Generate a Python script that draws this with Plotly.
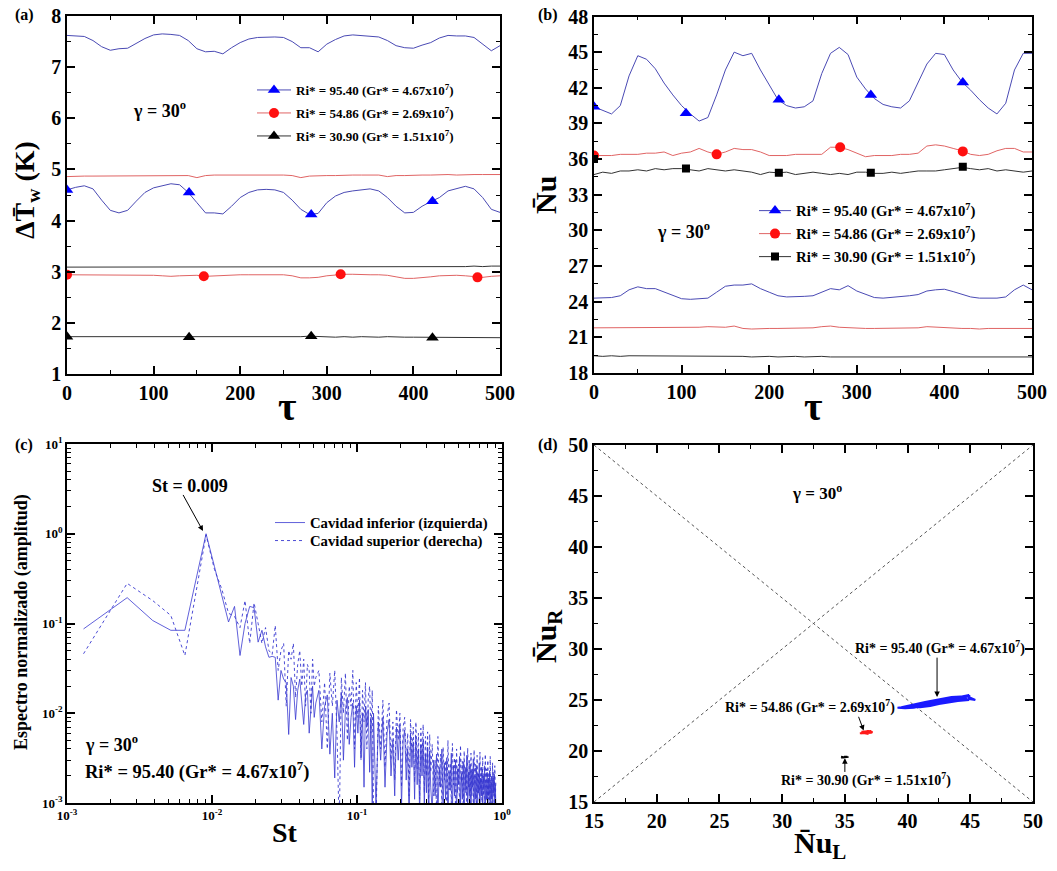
import plotly.graph_objects as go

SERIF = "Liberation Serif"

# ---------------- data: panel (a) and (b), tau grid ----------------
TAU = list(range(0, 501, 10))

A_BLUE_TOP = [7.62, 7.61, 7.60, 7.52, 7.40, 7.33, 7.36, 7.37, 7.46, 7.56,
              7.63, 7.65, 7.64, 7.62, 7.52, 7.36, 7.30, 7.31, 7.26, 7.38,
              7.48, 7.55, 7.58, 7.59, 7.59, 7.58, 7.50, 7.38, 7.38, 7.30,
              7.45, 7.54, 7.61, 7.63, 7.62, 7.61, 7.59, 7.52, 7.42, 7.38,
              7.37, 7.43, 7.48, 7.57, 7.62, 7.61, 7.61, 7.58, 7.45, 7.32,
              7.42]
A_RED_TOP = [4.86, 4.87, 4.87, 4.87, 4.87, 4.87, 4.88, 4.88, 4.88, 4.88,
             4.88, 4.88, 4.88, 4.88, 4.88, 4.84, 4.88, 4.89, 4.89, 4.89,
             4.90, 4.90, 4.90, 4.90, 4.89, 4.89, 4.88, 4.84, 4.87, 4.88,
             4.88, 4.88, 4.89, 4.89, 4.89, 4.89, 4.89, 4.86, 4.88, 4.88,
             4.89, 4.89, 4.89, 4.90, 4.90, 4.89, 4.90, 4.90, 4.90, 4.90,
             4.90]
A_BLACK_TOP = [3.09, 3.09, 3.10, 3.09, 3.09, 3.10, 3.10, 3.09, 3.09, 3.10,
               3.10, 3.09, 3.09, 3.10, 3.09, 3.09, 3.10, 3.10, 3.09, 3.10,
               3.10, 3.10, 3.09, 3.10, 3.10, 3.10, 3.10, 3.09, 3.10, 3.10,
               3.10, 3.10, 3.10, 3.10, 3.09, 3.10, 3.10, 3.10, 3.09, 3.10,
               3.10, 3.10, 3.10, 3.09, 3.10, 3.10, 3.10, 3.11, 3.10, 3.11,
               3.11]
A_BLUE_BOT = [4.60, 4.65, 4.68, 4.62, 4.40, 4.20, 4.15, 4.20, 4.38, 4.55,
              4.64, 4.68, 4.72, 4.70, 4.55, 4.35, 4.15, 4.15, 4.13, 4.28,
              4.45, 4.55, 4.60, 4.61, 4.60, 4.55, 4.40, 4.22, 4.12, 4.14,
              4.35, 4.48, 4.55, 4.58, 4.60, 4.62, 4.58, 4.45, 4.28, 4.15,
              4.16, 4.28, 4.37, 4.45, 4.58, 4.63, 4.67, 4.62, 4.45, 4.22,
              4.16]
A_RED_BOT = [2.94, 2.94, 2.93, 2.93, 2.93, 2.93, 2.94, 2.94, 2.94, 2.94,
             2.93, 2.92, 2.91, 2.92, 2.93, 2.93, 2.91, 2.92, 2.93, 2.94,
             2.94, 2.94, 2.94, 2.95, 2.95, 2.94, 2.92, 2.88, 2.88, 2.89,
             2.92, 2.94, 2.95, 2.95, 2.94, 2.94, 2.94, 2.93, 2.90, 2.87,
             2.87, 2.88, 2.90, 2.92, 2.93, 2.93, 2.92, 2.90, 2.89, 2.91,
             2.92]
A_BLACK_BOT = [1.73, 1.73, 1.72, 1.73, 1.73, 1.72, 1.73, 1.73, 1.72, 1.73,
               1.73, 1.72, 1.73, 1.73, 1.72, 1.73, 1.73, 1.73, 1.72, 1.73,
               1.73, 1.73, 1.73, 1.73, 1.72, 1.73, 1.73, 1.73, 1.74, 1.73,
               1.73, 1.72, 1.73, 1.72, 1.73, 1.72, 1.72, 1.73, 1.72, 1.72,
               1.72, 1.72, 1.71, 1.72, 1.72, 1.71, 1.72, 1.71, 1.71, 1.71,
               1.71]
# marker samples (a)
A_MK_BLUE_T = [0, 141, 282, 422]
A_MK_BLUE_V = [4.60, 4.55, 4.12, 4.38]
A_MK_RED_T = [0, 158, 316, 474]
A_MK_RED_V = [2.94, 2.91, 2.95, 2.89]
A_MK_BLACK_T = [0, 141, 282, 422]
A_MK_BLACK_V = [1.73, 1.72, 1.74, 1.71]

B_BLUE_TOP = [40.4, 40.1, 39.8, 40.5, 43.0, 44.7, 44.4, 43.6, 42.4, 41.4,
              40.5, 39.8, 39.2, 39.5, 41.4, 43.5, 45.0, 44.7, 44.9, 43.5,
              42.2, 41.0, 40.5, 40.3, 40.4, 40.9, 43.2, 44.9, 45.4, 44.8,
              42.9, 41.9, 41.1, 40.6, 40.4, 40.3, 40.9, 42.5, 44.0, 44.9,
              44.8, 43.5, 42.5, 41.8, 41.0, 40.3, 39.8, 40.7, 43.5, 44.9,
              44.9]
B_RED_TOP = [36.3, 36.3, 36.3, 36.4, 36.4, 36.4, 36.5, 36.5, 36.6, 36.3,
             36.5, 36.6, 36.9, 36.6, 36.4, 36.6, 36.9, 36.8, 36.8, 36.6,
             36.3, 36.3, 36.3, 36.4, 36.4, 36.4, 36.4, 37.0, 37.0, 36.8,
             36.5, 36.2, 36.3, 36.3, 36.3, 36.4, 36.4, 36.5, 37.1, 37.2,
             37.1, 36.9, 36.7, 36.4, 36.3, 36.4, 36.7, 36.9, 36.9, 36.6,
             36.6]
B_BLACK_TOP = [34.7, 34.9, 34.8, 35.0, 35.0, 35.1, 35.0, 35.2, 35.1, 35.2,
               35.2, 35.1, 35.0, 35.2, 35.1, 35.0, 35.1, 35.0, 34.9, 34.7,
               34.9, 34.85, 34.9, 34.7, 34.8, 34.9, 34.8, 34.7, 34.8, 34.7,
               34.9, 34.9, 34.8, 34.8, 34.9, 34.8, 34.9, 35.0, 35.0, 35.0,
               35.1, 35.2, 35.3, 35.2, 35.1, 35.2, 35.0, 35.1, 35.0, 34.9,
               35.0]
B_BLUE_BOT = [24.3, 24.3, 24.35, 24.5, 25.0, 25.25, 25.1, 25.1, 24.8, 24.5,
              24.25, 24.2, 24.25, 24.3, 24.8, 25.3, 25.4, 25.4, 25.5, 25.1,
              24.8, 24.5, 24.4, 24.4, 24.45, 24.5, 24.8, 25.1, 25.0, 25.35,
              24.9, 24.6, 24.35, 24.3, 24.35, 24.4, 24.5, 24.6, 24.9, 25.0,
              25.05, 24.85, 24.6, 24.4, 24.3, 24.3, 24.3, 24.4, 25.0, 25.4,
              25.0]
B_RED_BOT = [21.8, 21.8, 21.8, 21.8, 21.8, 21.8, 21.8, 21.8, 21.8, 21.8,
             21.85, 21.85, 21.85, 21.9, 21.85, 21.85, 21.95, 21.75, 21.7, 21.75,
             21.75, 21.75, 21.75, 21.8, 21.8, 21.8, 21.9, 21.95, 21.85, 21.8,
             21.75, 21.75, 21.75, 21.75, 21.75, 21.8, 21.8, 21.8, 21.9, 21.85,
             21.8, 21.8, 21.75, 21.75, 21.7, 21.75, 21.75, 21.75, 21.75, 21.75,
             21.75]
B_BLACK_BOT = [19.45, 19.4, 19.45, 19.4, 19.45, 19.45, 19.4, 19.45, 19.4, 19.45,
               19.45, 19.4, 19.45, 19.4, 19.4, 19.45, 19.4, 19.4, 19.35, 19.4,
               19.4, 19.35, 19.4, 19.4, 19.35, 19.4, 19.4, 19.35, 19.35, 19.4,
               19.35, 19.4, 19.4, 19.35, 19.4, 19.35, 19.4, 19.4, 19.35, 19.4,
               19.4, 19.35, 19.4, 19.35, 19.4, 19.35, 19.4, 19.35, 19.35, 19.4,
               19.35]
B_MK_BLUE_T = [0, 105, 211, 316, 421]
B_MK_BLUE_V = [40.4, 39.85, 41.0, 41.4, 42.45]
B_MK_RED_T = [0, 140, 281, 421]
B_MK_RED_V = [36.3, 36.4, 37.0, 36.65]
B_MK_BLACK_T = [0, 105, 211, 316, 421]
B_MK_BLACK_V = [36.0, 35.2, 34.85, 34.85, 35.35]

# ---------------- data: panel (c) spectrum ----------------
D_ST = 0.0013
K_A = list(range(1, 41))
K_B = list(range(42, 101, 2))
K_C = list(range(104, 249, 4))
K_D = list(range(254, 699, 6))

INF_A = [0.087, 0.194, 0.108, 0.084, 0.084, 0.31, 1.0, 0.43, 0.21, 0.104,
         0.155, 0.044, 0.10, 0.155, 0.15, 0.062, 0.084, 0.055, 0.042, 0.043,
         0.042, 0.014, 0.030, 0.024, 0.022, 0.0058, 0.025, 0.020, 0.0085, 0.018,
         0.024, 0.014, 0.0075, 0.016, 0.018, 0.006, 0.012, 0.020, 0.009, 0.013]
INF_B = [0.018, 0.004, 0.012, 0.016, 0.0035, 0.010, 0.0019, 0.014, 0.008, 0.017,
         0.003, 0.011, 0.015, 0.0045, 0.009, 0.013, 0.0025, 0.012, 0.006, 0.014,
         0.0032, 0.010, 0.0015, 0.012, 0.007, 0.011, 0.0022, 0.009, 0.0008, 0.010]
INF_C = [0.0009, 0.008, 0.003, 0.009, 0.0015, 0.006, 0.0085, 0.002, 0.005, 0.0012,
         0.007, 0.003, 0.0075, 0.0009, 0.005, 0.0065, 0.0018, 0.004, 0.0006, 0.006,
         0.0025, 0.0048, 0.0011, 0.0055, 0.0016, 0.004, 0.0007, 0.0045, 0.002, 0.005,
         0.0009, 0.0035, 0.0013, 0.0042, 0.0006, 0.0038, 0.0015]
INF_D = [0.0008, 0.003, 0.0012, 0.0035, 0.0007, 0.0025, 0.0015, 0.004, 0.0009, 0.0028,
         0.0011, 0.0032, 0.0006, 0.0022, 0.0014, 0.0036, 0.0008, 0.0026, 0.0012, 0.003,
         0.0007, 0.0024, 0.0016, 0.0033, 0.0009, 0.0021, 0.0011, 0.0029, 0.0006, 0.0025,
         0.0013, 0.0034, 0.0008, 0.0022, 0.0012, 0.0027, 0.0007, 0.0023, 0.0015, 0.0031,
         0.0009, 0.002, 0.0011, 0.0026, 0.0006, 0.0021, 0.0013, 0.0028, 0.0008, 0.0019,
         0.0012, 0.0024, 0.0007, 0.002, 0.0014, 0.0026, 0.0009, 0.0018, 0.0011, 0.0022,
         0.0006, 0.0019, 0.0012, 0.0023, 0.0008, 0.0017, 0.0011, 0.002, 0.0007, 0.0018,
         0.0013, 0.0021, 0.0008, 0.0016, 0.0009]

SUP_A = [0.046, 0.28, 0.18, 0.123, 0.044, 0.23, 0.97, 0.40, 0.24, 0.13,
         0.12, 0.09, 0.18, 0.06, 0.17, 0.10, 0.06, 0.09, 0.05, 0.045,
         0.095, 0.03, 0.05, 0.06, 0.012, 0.05, 0.04, 0.06, 0.015, 0.035,
         0.05, 0.02, 0.04, 0.012, 0.035, 0.03, 0.01, 0.04, 0.02, 0.025]
SUP_B = [0.03, 0.008, 0.022, 0.004, 0.028, 0.012, 0.03, 0.006, 0.0005, 0.025,
         0.01, 0.028, 0.005, 0.02, 0.012, 0.03, 0.004, 0.022, 0.009, 0.025,
         0.003, 0.018, 0.008, 0.022, 0.004, 0.015, 0.02, 0.006, 0.018, 0.0008]
SUP_C = [0.0006, 0.012, 0.004, 0.014, 0.0025, 0.009, 0.013, 0.003, 0.008, 0.0018,
         0.011, 0.005, 0.01, 0.0015, 0.007, 0.009, 0.0028, 0.006, 0.0012, 0.0085,
         0.0035, 0.007, 0.0017, 0.008, 0.0024, 0.006, 0.0011, 0.0068, 0.003, 0.0075,
         0.0013, 0.0055, 0.002, 0.0062, 0.001, 0.0058, 0.0022]
SUP_D = [0.0045, 0.0012, 0.003, 0.0008, 0.0055, 0.0015, 0.0035, 0.0009, 0.0042, 0.0018,
         0.003, 0.0007, 0.005, 0.0014, 0.0028, 0.001, 0.0046, 0.0016, 0.0032, 0.0008,
         0.004, 0.0013, 0.0027, 0.0009, 0.0044, 0.0017, 0.0029, 0.0007, 0.0038, 0.0014,
         0.0025, 0.001, 0.0041, 0.0015, 0.003, 0.0008, 0.0036, 0.0012, 0.0024, 0.0009,
         0.0039, 0.0016, 0.0027, 0.0007, 0.0034, 0.0013, 0.0022, 0.001, 0.0037, 0.0014,
         0.0026, 0.0008, 0.0032, 0.0012, 0.0021, 0.0009, 0.0035, 0.0015, 0.0024, 0.0007,
         0.003, 0.0011, 0.0022, 0.0009, 0.0033, 0.0013, 0.002, 0.0008, 0.0028, 0.0012,
         0.0022, 0.0009, 0.0026, 0.0011, 0.0018]

# ---------------- data: panel (d) reference diagonals ----------------
DIAG_X = [15, 50]
DIAG_UP = [15, 50]
DIAG_DOWN = [50, 15]

LEG_RI = ["<b>Ri* = 95.40 (Gr* = 4.67x10<sup>7</sup>)</b>",
          "<b>Ri* = 54.86 (Gr* = 2.69x10<sup>7</sup>)</b>",
          "<b>Ri* = 30.90 (Gr* = 1.51x10<sup>7</sup>)</b>"]
LEG_CAV = ["<b>Cavidad inferior (izquierda)</b>", "<b>Cavidad superior (derecha)</b>"]

# ---------------- styles ----------------
BLUE_L = "#4a4ab4"
BLUE_M = "#0000ff"
RED_L = "#e06464"
RED_M = "#ff1010"
BLK_L = "#333333"
BLK_M = "#000000"
SPEC = "#3838d0"
W, H = 1057, 871


def pair(ks, vals):
    n = min(len(ks), len(vals))
    return [k * D_ST for k in ks[:n]], vals[:n]


def spectrum(parts):
    xs, ys = [], []
    for ks, vs in parts:
        a, b = pair(ks, vs)
        xs += a
        ys += b
    return xs, ys


fig = go.Figure()


def line(x, y, xa, ya, color, width=1.0, dash="solid", name=None, legend=None, showlegend=False):
    fig.add_trace(go.Scatter(x=x, y=y, xaxis=xa, yaxis=ya, mode="lines",
                             line=dict(color=color, width=width, dash=dash),
                             name=name, legend=legend, showlegend=showlegend,
                             hoverinfo="skip"))


def marks(x, y, xa, ya, color, symbol, size):
    fig.add_trace(go.Scatter(x=x, y=y, xaxis=xa, yaxis=ya, mode="markers",
                             marker=dict(color=color, symbol=symbol, size=size,
                                         line=dict(width=0)),
                             showlegend=False, hoverinfo="skip"))


def legend_item(name, lcolor, mcolor, symbol, size, legend, xa, ya):
    fig.add_trace(go.Scatter(x=[None], y=[None], xaxis=xa, yaxis=ya, mode="lines+markers",
                             line=dict(color=lcolor, width=1),
                             marker=dict(color=mcolor, symbol=symbol, size=size),
                             name=name, legend=legend, showlegend=True))


# panel (a)
line(TAU, A_BLUE_TOP, "x", "y", BLUE_L)
line(TAU, A_RED_TOP, "x", "y", RED_L)
line(TAU, A_BLACK_TOP, "x", "y", BLK_L)
line(TAU, A_BLUE_BOT, "x", "y", BLUE_L)
line(TAU, A_RED_BOT, "x", "y", RED_L)
line(TAU, A_BLACK_BOT, "x", "y", BLK_L)
marks(A_MK_BLUE_T, A_MK_BLUE_V, "x", "y", BLUE_M, "triangle-up", 11)
marks(A_MK_RED_T, A_MK_RED_V, "x", "y", RED_M, "circle", 10)
marks(A_MK_BLACK_T, A_MK_BLACK_V, "x", "y", BLK_M, "triangle-up", 11)
legend_item(LEG_RI[0], BLUE_L, BLUE_M, "triangle-up", 11, "legend", "x", "y")
legend_item(LEG_RI[1], RED_L, RED_M, "circle", 10, "legend2", "x", "y")
legend_item(LEG_RI[2], BLK_L, BLK_M, "triangle-up", 11, "legend3", "x", "y")

# panel (b)
line(TAU, B_BLUE_TOP, "x2", "y2", BLUE_L)
line(TAU, B_RED_TOP, "x2", "y2", RED_L)
line(TAU, B_BLACK_TOP, "x2", "y2", BLK_L)
line(TAU, B_BLUE_BOT, "x2", "y2", BLUE_L)
line(TAU, B_RED_BOT, "x2", "y2", RED_L)
line(TAU, B_BLACK_BOT, "x2", "y2", BLK_L)
marks(B_MK_BLUE_T, B_MK_BLUE_V, "x2", "y2", BLUE_M, "triangle-up", 11)
marks(B_MK_RED_T, B_MK_RED_V, "x2", "y2", RED_M, "circle", 10)
marks(B_MK_BLACK_T, B_MK_BLACK_V, "x2", "y2", BLK_M, "square", 8)
legend_item(LEG_RI[0], BLUE_L, BLUE_M, "triangle-up", 11, "legend4", "x2", "y2")
legend_item(LEG_RI[1], RED_L, RED_M, "circle", 10, "legend5", "x2", "y2")
legend_item(LEG_RI[2], BLK_L, BLK_M, "square", 8, "legend6", "x2", "y2")

# panel (c)
sx_inf, sy_inf = spectrum([(K_A, INF_A), (K_B, INF_B), (K_C, INF_C), (K_D, INF_D)])
sx_sup, sy_sup = spectrum([(K_A, SUP_A), (K_B, SUP_B), (K_C, SUP_C), (K_D, SUP_D)])
line(sx_inf, sy_inf, "x3", "y3", SPEC, width=0.8,
     name=LEG_CAV[0], legend="legend7", showlegend=True)
line(sx_sup, sy_sup, "x3", "y3", SPEC, width=0.9, dash="dot",
     name=LEG_CAV[1], legend="legend8", showlegend=True)

# panel (d)
line(DIAG_X, DIAG_UP, "x4", "y4", "#555555", width=1, dash="dot")
line(DIAG_X, DIAG_DOWN, "x4", "y4", "#555555", width=1, dash="dot")
line(B_BLUE_TOP, B_BLUE_BOT, "x4", "y4", "#1a1aff", width=2)
line(B_RED_TOP, B_RED_BOT, "x4", "y4", "#ff1a1a", width=2)
line(B_BLACK_TOP, B_BLACK_BOT, "x4", "y4", "#000000", width=1.5)


# ---------------- axes ----------------
def px(x0, x1):
    return [x0 / W, x1 / W]


def py(top, bot):
    return [1 - bot / H, 1 - top / H]


def axis(domain, rng, dtick=None, minor_dtick=None, anchor=None, tsize=20, **kw):
    d = dict(domain=domain, range=rng, showline=True, linecolor="black", linewidth=1.5,
             mirror="allticks", ticks="inside", ticklen=8, tickwidth=1.5, tickcolor="black",
             showgrid=False, zeroline=False, anchor=anchor, automargin=False,
             tickfont=dict(family=SERIF, size=tsize, color="black", weight="bold"))
    if dtick is not None:
        d["dtick"] = dtick
        d["tick0"] = rng[0]
        d["tickprefix"] = "<b>"
        d["ticksuffix"] = "</b>"
    if minor_dtick is not None:
        d["minor"] = dict(ticks="inside", ticklen=4, tickwidth=1.2, tickcolor="black",
                          dtick=minor_dtick, showgrid=False)
    d.update(kw)
    return d


LOGX_MINOR = [m * 10 ** e for e in (-3, -2, -1) for m in range(2, 10)]
LOGY_MINOR = [m * 10 ** e for e in (-3, -2, -1, 0) for m in range(2, 10)]


def pw(e):
    return "<b>10<sup>%d</sup></b>" % e


fig.update_layout(
    template="none",
    xaxis=axis(px(67, 500), [0, 500], 100, 50, anchor="y"),
    yaxis=axis(py(16, 374), [1, 8], 1, 0.5, anchor="x"),
    xaxis2=axis(px(594, 1032), [0, 500], 100, 50, anchor="y2"),
    yaxis2=axis(py(16.5, 373), [18, 48], 3, 1.5, anchor="x2"),
    xaxis3=axis(px(67, 502), [-3, 0], anchor="y3", type="log", tsize=13,
                tickvals=[0.001, 0.01, 0.1, 1], ticktext=[pw(-3), pw(-2), pw(-1), pw(0)],
                minor=dict(ticks="inside", ticklen=4, tickwidth=1.2, tickcolor="black",
                           tickvals=LOGX_MINOR)),
    yaxis3=axis(py(444, 803), [-3, 1], anchor="x3", type="log", tsize=13,
                tickvals=[0.001, 0.01, 0.1, 1, 10],
                ticktext=[pw(-3), pw(-2), pw(-1), pw(0), pw(1)],
                minor=dict(ticks="inside", ticklen=4, tickwidth=1.2, tickcolor="black",
                           tickvals=LOGY_MINOR)),
    xaxis4=axis(px(594, 1033), [15, 50], 5, 2.5, anchor="y4"),
    yaxis4=axis(py(445, 802), [15, 50], 5, 2.5, anchor="x4"),
)


def leg(xp, yp, size, iw=30):
    return dict(x=xp / W, y=1 - yp / H, xanchor="left", yanchor="middle",
                bgcolor="rgba(0,0,0,0)", borderwidth=0, itemwidth=iw,
                font=dict(family=SERIF, size=size, color="black"))


fig.update_layout(
    width=W, height=H, margin=dict(l=0, r=0, t=0, b=0, autoexpand=False),
    paper_bgcolor="white", plot_bgcolor="white",
    legend=leg(252, 90, 13, 34), legend2=leg(252, 113, 13, 34), legend3=leg(252, 136, 13, 34),
    legend4=leg(754, 211, 14.8, 32), legend5=leg(754, 234, 14.8, 32),
    legend6=leg(754, 257, 14.8, 32),
    legend7=leg(270, 523, 14.7), legend8=leg(270, 541, 14.7),
)

# ---------------- annotations ----------------
ann = []


def text(x, y, s, size, xref="paper", yref="paper", angle=0, xanchor="center"):
    ann.append(dict(x=x, y=y, xref=xref, yref=yref, text=s, showarrow=False,
                    textangle=angle, xanchor=xanchor, yanchor="middle",
                    font=dict(family=SERIF, size=size, color="black")))


def ptext(xp, yp, s, size, angle=0, xanchor="center"):
    text(xp / W, 1 - yp / H, s, size, angle=angle, xanchor=xanchor)


def arrow(xa, ya, xt, yt, xh, yh):
    ann.append(dict(x=xh, y=yh, ax=xt, ay=yt, xref=xa, yref=ya, axref=xa, ayref=ya,
                    text="", showarrow=True, arrowhead=2, arrowsize=1.1, arrowwidth=1,
                    arrowcolor="black"))


# panel labels
ptext(24, 15, "<b>(a)</b>", 16)
ptext(548, 15, "<b>(b)</b>", 16)
ptext(24, 445, "<b>(c)</b>", 16)
ptext(548, 445, "<b>(d)</b>", 16)

# axis titles
ptext(27, 190, "<b>\u0394T\u0304<sub>w</sub> (K)</b>", 28, angle=-90)
ptext(287, 406, "<b>\u03c4</b>", 40)
ptext(546, 195, "<b>N\u0304u</b>", 30, angle=-90)
ptext(813, 406, "<b>\u03c4</b>", 40)
ptext(21, 622, "<b>Espectro normalizado (amplitud)</b>", 18, angle=-90)
ptext(285, 832, "<b>St</b>", 28)
ptext(548, 636, "<b>N\u0304u<sub>R</sub></b>", 30, angle=-90)
ptext(820, 845, "<b>N\u0304u<sub>L</sub></b>", 30)

# in-plot texts
G30 = "<b>\u03b3 = 30<sup>o</sup></b>"
text(107, 6.18, G30, 18, "x", "y")
text(102, 30.0, G30, 18, "x2", "y2")
text(32.8, 45.4, G30, 17, "x4", "y4")
text(-2.89, -2.335, G30, 18, "x3", "y3", xanchor="left")
text(-2.89, -2.634, LEG_RI[0], 18.5, "x3", "y3", xanchor="left")
text(-2.15, 0.53, "<b>St = 0.009</b>", 18, "x3", "y3")
arrow("x3", "y3", -2.205, 0.449, -2.062, 0.03)

text(42.6, 30.1, LEG_RI[0], 14, "x4", "y4")
text(32.2, 24.4, LEG_RI[1], 14, "x4", "y4")
text(36.7, 17.2, LEG_RI[2], 14, "x4", "y4")
arrow("x4", "y4", 42.35, 29.3, 42.35, 25.3)
arrow("x4", "y4", 36.05, 23.5, 36.5, 22.0)
arrow("x4", "y4", 35.0, 17.8, 35.0, 19.3)

fig.update_layout(annotations=ann)

fig.write_html("out.html", config={"displayModeBar": False},
               post_script="document.body.style.margin='0px';document.body.style.padding='0px';")
